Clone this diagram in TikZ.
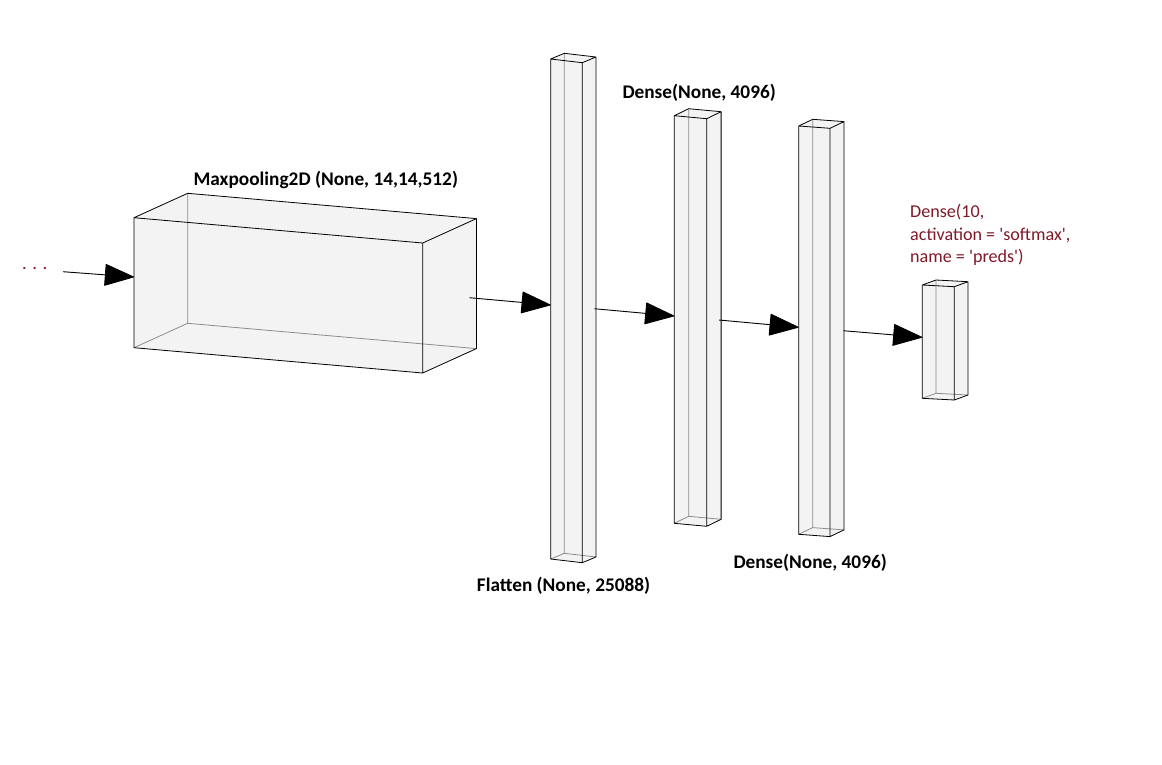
\documentclass[tikz,border=0pt]{standalone}
\usepackage{fontspec}
\setmainfont{Carlito}
\usetikzlibrary{positioning,calc,arrows.meta}

\definecolor{labelred}{RGB}{128,24,40}
\definecolor{boxfill}{RGB}{243,243,243}
\definecolor{backgray}{RGB}{140,140,140}

% cuboid: name, x, y (front top left), width, height, drop, depth dx, depth dy
\newcommand{\layerbox}[8]{%
  \coordinate (#1-a) at (#2,#3);
  \coordinate (#1-b) at ($(#1-a)+(#4,#6)$);
  \coordinate (#1-c) at ($(#1-b)+(0,#5)$);
  \coordinate (#1-d) at ($(#1-a)+(0,#5)$);
  \coordinate (#1-ba) at ($(#1-a)+(#7,#8)$);
  \coordinate (#1-bb) at ($(#1-b)+(#7,#8)$);
  \coordinate (#1-bc) at ($(#1-c)+(#7,#8)$);
  \coordinate (#1-bd) at ($(#1-d)+(#7,#8)$);
  \fill[boxfill] (#1-a) -- (#1-ba) -- (#1-bb) -- (#1-bc) -- (#1-c) -- (#1-d) -- cycle;
  \draw[backedge] (#1-ba) -- (#1-bd) -- (#1-bc) (#1-bd) -- (#1-d);
  \draw[frontedge] (#1-a) -- (#1-b) -- (#1-c) -- (#1-d) -- cycle
    (#1-a) -- (#1-ba) -- (#1-bb) -- (#1-b)
    (#1-bb) -- (#1-bc) -- (#1-c);
}

\begin{document}
\begin{tikzpicture}[
    x=1pt, y=-1pt,
    frontedge/.style={draw=black, line width=0.8pt, line join=round},
    backedge/.style={draw=backgray, line width=0.8pt},
    conn/.style={-{Triangle[length=30pt, width=22pt, round]}, line width=0.9pt},
    lbl/.style={font=\bfseries\fontsize{19.3}{22}\selectfont, inner sep=0pt, anchor=base west},
    redlbl/.style={font=\fontsize{18.1}{22.7}\selectfont, text=labelred, inner sep=0pt, align=left}
]
\useasboundingbox (0,0) rectangle (1162,764);

% Layers
\layerbox{pool}{134}{217.7}{288.7}{130}{25.3}{53.7}{-24.4}
\layerbox{flat}{550.7}{59}{31.6}{500}{3.7}{13.6}{-5.7}
\layerbox{dense1}{674.3}{115.7}{32.4}{407.6}{3}{14.4}{-7}
\layerbox{dense2}{798.7}{126}{31.3}{408.3}{2.3}{14}{-6.7}
\layerbox{preds}{922.3}{285}{32}{113.3}{1.7}{13.7}{-5}

% Labels
\node[lbl, text=labelred, font=\fontsize{18.5}{22}\selectfont] (dots) at (22,269.5) {. . .};
\node[lbl] (poollbl) at (193.3,185.7) {Maxpooling2D (None, 14,14,512)};
\node[lbl] (flatlbl) at (476.7,591.7) {Flatten (None, 25088)};
\node[lbl] (dense1lbl) at (622.3,98.3) {Dense(None, 4096)};
\node[lbl] (dense2lbl) at (733.3,568.3) {Dense(None, 4096)};
\node[redlbl, anchor=north west] (predslbl) at (910,204) {Dense(10,\\activation = \textquotesingle softmax\textquotesingle,\\name = \textquotesingle preds\textquotesingle)};

% Connection points
\coordinate (start) at (63,271.7);
\coordinate (pool-in) at (134,277);
\coordinate (pool-out) at (469.3,297.7);
\coordinate (flat-in) at (550.7,305);
\coordinate (flat-out) at (594.3,308.7);
\coordinate (dense1-in) at (674.3,316);
\coordinate (dense1-out) at (719,320);
\coordinate (dense2-in) at (798.7,327.3);
\coordinate (dense2-out) at (843.3,330.7);
\coordinate (preds-in) at (922.3,337.3);

% Arrows
\draw[conn] (start) -- (pool-in);
\draw[conn] (pool-out) -- (flat-in);
\draw[conn] (flat-out) -- (dense1-in);
\draw[conn] (dense1-out) -- (dense2-in);
\draw[conn] (dense2-out) -- (preds-in);

\end{tikzpicture}
\end{document}
